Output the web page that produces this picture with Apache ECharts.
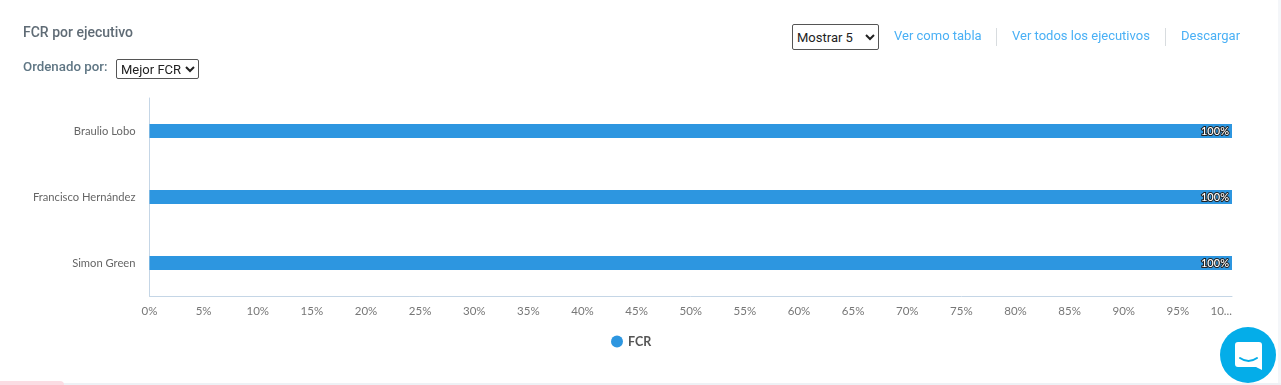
<!DOCTYPE html>
<html><head><meta charset="utf-8">
<script src="https://cdn.jsdelivr.net/npm/echarts@6/dist/echarts.min.js"></script>
<style>
html,body{margin:0;padding:0;background:#fff;overflow:hidden}
body{width:1281px;height:385px;position:relative;font-family:Roboto,sans-serif}
#chart{position:absolute;left:0;top:0;width:1281px;height:385px}
.t{position:absolute;white-space:nowrap;line-height:16px}
.h{font-weight:500;font-size:14px;color:#5f6b75}
.link{font-size:13px;color:#4ab0f5;top:28px}
.sep{position:absolute;top:28px;width:1px;height:18px;background:#d8dcdf}
select{position:absolute;font-family:Roboto,sans-serif;font-size:13px;color:#222;background:#fff;border:1px solid #555;border-radius:2px;padding:0;box-sizing:border-box}
#strip{position:absolute;left:0;top:383px;width:1281px;height:2px;background:#eef1f5}
#pink{position:absolute;left:0;top:381px;width:64px;height:4px;background:#fbdce3;border-radius:0 4px 0 0}
#rstrip{position:absolute;left:1278px;top:0;width:3px;height:385px;background:#f4f6f9}
#chat{position:absolute;left:1220px;top:327px;width:56px;height:56px;border-radius:50%;background:#04ade9}
</style></head><body>
<div id="rstrip"></div><div id="strip"></div><div id="pink"></div>
<div id="chart"></div>
<div class="t h" style="left:23px;top:24px">FCR por ejecutivo</div>
<div class="t h" style="left:23px;top:59px;color:#5f7684;font-size:13.300px">Ordenado por:</div>
<select style="left:116px;top:59px;width:83px;height:20px"><option>Mejor FCR</option></select>
<select style="left:792px;top:24px;width:87px;height:26px"><option>Mostrar 5</option></select>
<div class="t link" style="left:894px;top:28px">Ver como tabla</div><div class="sep" style="left:996px"></div>
<div class="t link" style="left:1012px;top:28px">Ver todos los ejecutivos</div><div class="sep" style="left:1165px"></div>
<div class="t link" style="left:1181px;top:28px">Descargar</div>
<div id="chat"><svg width="56" height="56" viewBox="0 0 56 56"><path d="M18 15h21a3 3 0 0 1 3 3v25l-6-3H18a3 3 0 0 1-3-3V18a3 3 0 0 1 3-3z" fill="#fff"/><path d="M20 31q8.500 6 17 0" fill="none" stroke="#04ade9" stroke-width="2" stroke-linecap="round"/></svg></div>
<script>
const categories = ['Braulio Lobo', 'Francisco Hernández', 'Simon Green'];
const fcrValues = [100, 100, 100];
const seriesName = 'FCR';
const chart = echarts.init(document.getElementById('chart'), null, {renderer:'canvas'});
chart.setOption({
  animation:false,
  grid:{left:149.5,right:49,top:98,height:198,containLabel:false},
  legend:{show:true,top:330,left:606,icon:'circle',itemWidth:12,itemHeight:12,itemGap:9,
    textStyle:{fontFamily:'Lato',fontSize:12.500,fontWeight:700,color:'#555'},data:[seriesName]},
  xAxis:{type:'value',min:0,max:100,interval:5,
    axisLine:{show:true,lineStyle:{color:'#c5d6e6'}},axisTick:{show:false},splitLine:{show:false},
    axisLabel:{formatter:'{value}%',margin:9,fontFamily:'Lato',fontSize:11.500,color:'#777',width:27,overflow:'truncate',ellipsis:'...',hideOverlap:false,alignMaxLabel:'right'}},
  yAxis:{type:'category',inverse:true,data:categories,
    axisLine:{show:true,lineStyle:{color:'#c5d6e6'}},axisTick:{show:false},
    axisLabel:{margin:14,fontFamily:'Lato',fontSize:11.200,color:'#666'}},
  series:[{name:seriesName,type:'bar',data:fcrValues,barWidth:14,itemStyle:{color:'#2d96e0'},
    label:{show:true,position:'insideRight',distance:3,formatter:'{c}%',fontFamily:'Lato',fontSize:11,fontWeight:500,color:'#fff',textBorderColor:'#222',textBorderWidth:2}}]
});
</script>
</body></html>
